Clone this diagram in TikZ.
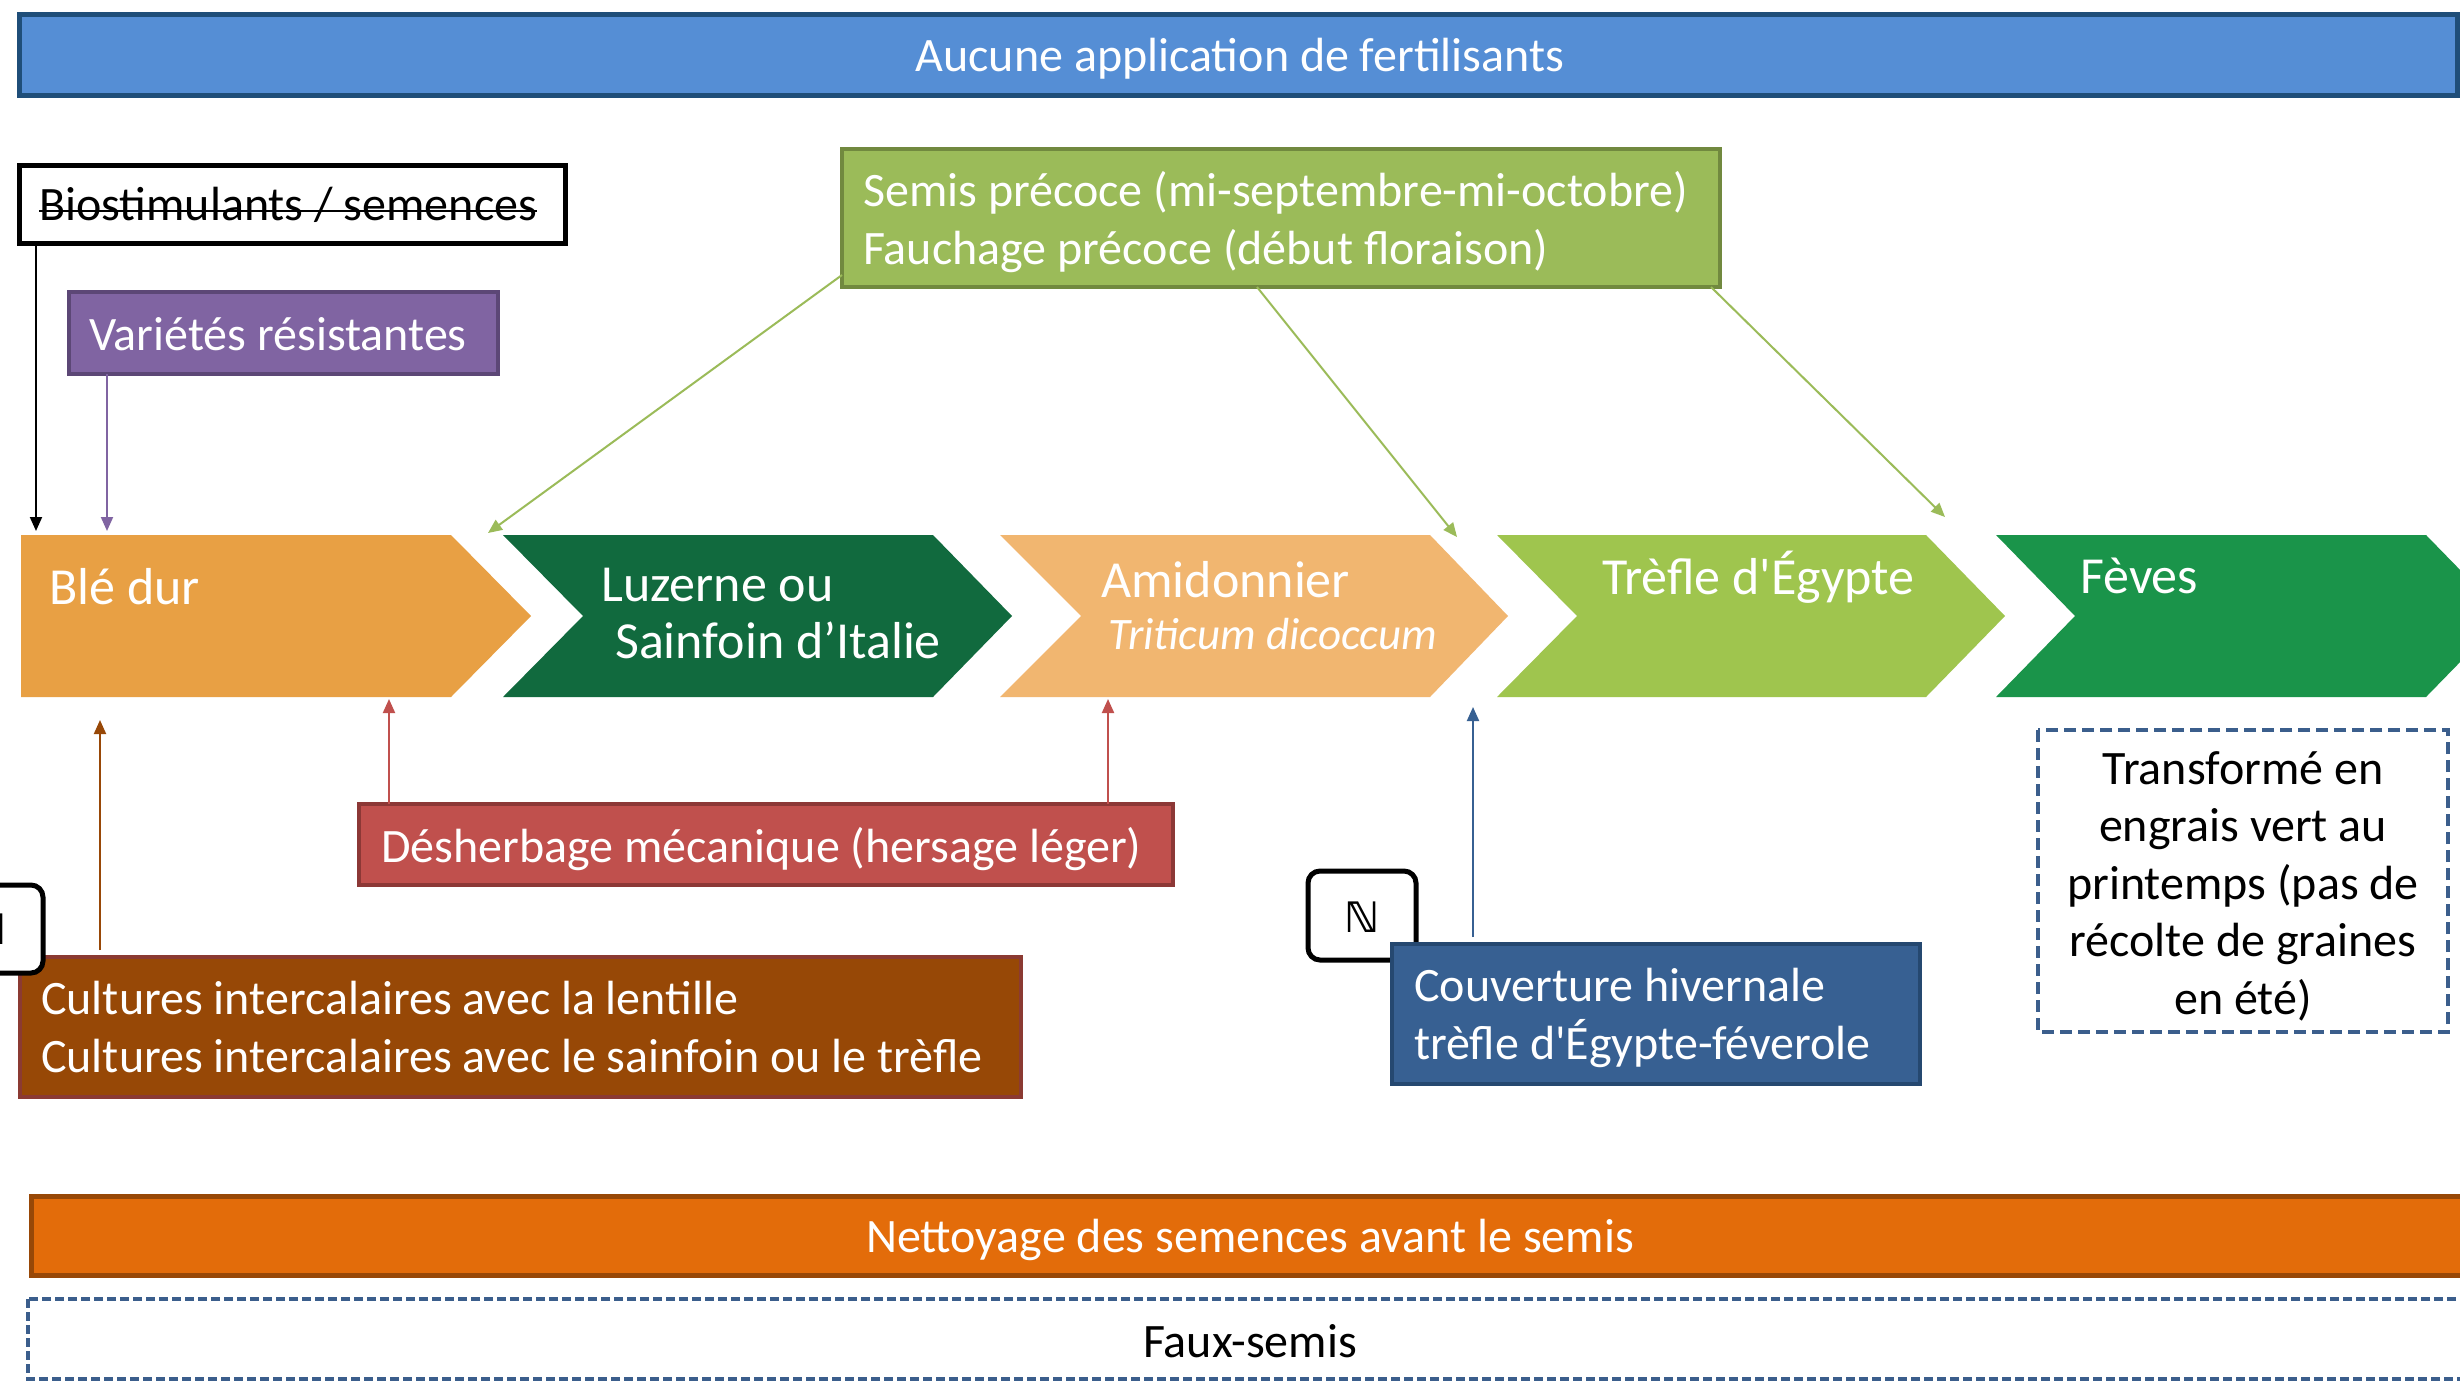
\documentclass[tikz,border=0pt]{standalone}
\usepackage{fontspec}
\setmainfont[Ligatures=TeXOff]{Carlito}
\newfontfamily\symfont{DejaVu Sans}
\usetikzlibrary{arrows.meta}
\definecolor{topfill}{HTML}{558ED5}
\definecolor{topline}{HTML}{1F4E79}
\definecolor{purfill}{HTML}{8064A2}
\definecolor{purline}{HTML}{5C4776}
\definecolor{grnfill}{HTML}{9BBB59}
\definecolor{grnline}{HTML}{71893F}
\definecolor{cBle}{HTML}{E8A044}
\definecolor{cLuz}{HTML}{116A3E}
\definecolor{cAmi}{HTML}{F1B670}
\definecolor{cTre}{HTML}{9FC54E}
\definecolor{cFev}{HTML}{1A944A}
\definecolor{redfill}{HTML}{C0504D}
\definecolor{redline}{HTML}{8C3836}
\definecolor{brnfill}{HTML}{974806}
\definecolor{brnline}{HTML}{8B3A32}
\definecolor{blufill}{HTML}{376092}
\definecolor{bluline}{HTML}{254870}
\definecolor{dashblue}{HTML}{3B5E8C}
\definecolor{orafill}{HTML}{E36C0A}
\definecolor{oraline}{HTML}{984807}
\newcommand\fsA{\fontsize{48}{57.5}\selectfont}
\newcommand\fsB{\fontsize{52}{55}\selectfont}
\newcommand\fsC{\fontsize{45}{50}\selectfont}
\tikzset{
  boxn/.style={line width=#1, inner sep=0, outer sep=0},
  boxn/.default=4pt,
  wtxt/.style={inner sep=0, text=white, font=\fsA, align=left},
  btxt/.style={inner sep=0, text=black, font=\fsA, align=center},
  ctxt/.style={inner sep=0, text=white, font=\fsB, anchor=west},
  arr/.style={line width=2pt, -{Triangle[length=14pt,width=12pt]}},
  nbox/.style={draw=black, fill=white, line width=5pt, rounded corners=12pt},
}
\begin{document}
\begin{tikzpicture}[x=1pt,y=-1pt]
\useasboundingbox (0,0) rectangle (2460,1384);
\fill[white] (0,0) rectangle (2460,1384);

% top bar
\draw[boxn=5pt, fill=topfill, draw=topline] (19,14) rectangle (2457,95);
\node[inner sep=0] (top) at (1240,59) {};
\node[wtxt, align=center] (toptxt) at (top) {Aucune application de fertilisants};

% biostimulants
\draw[boxn=5pt, fill=white, draw=black] (19,165) rectangle (565,243);
\node[inner sep=0] (bio) at (292,204) {};
\coordinate (bioS) at (292,243);
\node[inner sep=0, font=\fsA, anchor=base west] (biot) at (39,220) {Biostimulants / semences};
\draw[line width=2.5pt] (biot.base west) ++(0,-9) -- (biot.base east |- 0,211);

% varietes
\draw[boxn, fill=purfill, draw=purline] (69,292) rectangle (498,374);
\coordinate (varS) at (283,374);
\node[wtxt, anchor=west] (vart) at (89,334) {Variétés résistantes};

% semis
\draw[boxn, fill=grnfill, draw=grnline] (842,149) rectangle (1720,287);
\coordinate (semSW) at (842,287);
\coordinate (semS) at (1281,287);
\coordinate (semSE) at (1720,287);
\node[wtxt, anchor=west] (semt) at (863,222) {Semis précoce (mi-septembre-mi-octobre)\\Fauchage précoce (début floraison)};

% chevrons
\fill[cBle] (21,535) -- (451,535) -- (531,616) -- (451,697) -- (21,697) -- cycle;
\fill[cLuz] (503,535) -- (933,535) -- (1012,616) -- (933,697) -- (503,697) -- (583,616) -- cycle;
\fill[cAmi] (1000,535) -- (1430,535) -- (1508,616) -- (1430,697) -- (1000,697) -- (1081,616) -- cycle;
\fill[cTre] (1497,535) -- (1926,535) -- (2005,616) -- (1926,697) -- (1497,697) -- (1577,616) -- cycle;
\fill[cFev] (1996,535) -- (2426,535) -- (2505,616) -- (2426,697) -- (1996,697) -- (2075,616) -- cycle;
\node[ctxt] (ble) at (49,587) {Blé dur};
\node[ctxt] (luz1) at (601,585) {Luzerne ou};
\node[ctxt] (luz2) at (615,640) {Sainfoin d’Italie};
\node[ctxt] (ami1) at (1101,580) {Amidonnier};
\node[ctxt, font=\fsC\itshape] (ami2) at (1108,634) {Triticum dicoccum};
\node[ctxt] (tre) at (1602,577) {Trèfle d'Égypte};
\node[ctxt] (fev) at (2080,576) {Fèves};

% desherbage
\draw[boxn, fill=redfill, draw=redline] (359,804) rectangle (1173,885);
\coordinate (desN) at (766,804);
\node[wtxt, anchor=west] (dest) at (381,849) {Désherbage mécanique (hersage léger)};

% cultures
\draw[boxn, fill=brnfill, draw=brnline] (20,957) rectangle (1021,1097);
\coordinate (culN) at (520,957);
\node[wtxt, anchor=west] (cult) at (41,1027) {Cultures intercalaires avec la lentille\\Cultures intercalaires avec le sainfoin ou le trèfle};

% N boxes
\draw[nbox] (-65,885) rectangle (43,973);
\node[inner sep=0, font=\symfont\bfseries\fontsize{42}{42}\selectfont] (nleft) at (-11,929) {ℕ};
\draw[nbox] (1308,871) rectangle (1416,960);
\node[inner sep=0, font=\symfont\bfseries\fontsize{42}{42}\selectfont] (nright) at (1362,917) {ℕ};

% couverture
\draw[boxn, fill=blufill, draw=bluline] (1392,944) rectangle (1920,1084);
\coordinate (couN) at (1656,944);
\node[wtxt, anchor=west] (cout) at (1414,1018) {Couverture hivernale\\trèfle d'Égypte-féverole};

% transforme
\draw[line width=3.5pt, draw=dashblue, dash pattern=on 12pt off 6pt] (2038,730) rectangle (2448,1032);
\node[btxt] (trat) at (2243,886) {Transformé en\\engrais vert au\\printemps (pas de\\récolte de graines\\en été)};

% nettoyage
\draw[boxn=5pt, fill=orafill, draw=oraline] (31,1196) rectangle (2475,1275);
\node[wtxt, align=center] (net) at (1250,1240) {Nettoyage des semences avant le semis};

% faux-semis
\draw[line width=3.5pt, draw=dashblue, dash pattern=on 9pt off 4pt] (28,1299) rectangle (2475,1379);
\node[btxt] (faux) at (1250,1341) {Faux-semis};

% arrow end coordinates
\coordinate (e1) at (36,531);
\coordinate (e2) at (107,531);
\coordinate (e3) at (488,533);
\coordinate (e4) at (1457,537);
\coordinate (e5) at (1945,517);
\coordinate (e6) at (389,699);
\coordinate (e7) at (1108,699);
\coordinate (e8) at (100,720);
\coordinate (e9) at (1473,707);

\draw[arr, black] (e1 |- bioS) -- (e1);
\draw[arr, purfill] (e2 |- varS) -- (e2);
\draw[arr, grnfill] ([yshift=12pt]semSW) -- (e3);
\draw[arr, grnfill] ([xshift=-24pt]semS) -- (e4);
\draw[arr, grnfill] ([xshift=-9pt]semSE) -- (e5);
\draw[arr, redfill] (e6 |- desN) -- (e6);
\draw[arr, redfill] (e7 |- desN) -- (e7);
\draw[arr, oraline] ([yshift=7pt]e8 |- culN) -- (e8);
\draw[arr, blufill] ([yshift=7pt]e9 |- couN) -- (e9);
\end{tikzpicture}
\end{document}
